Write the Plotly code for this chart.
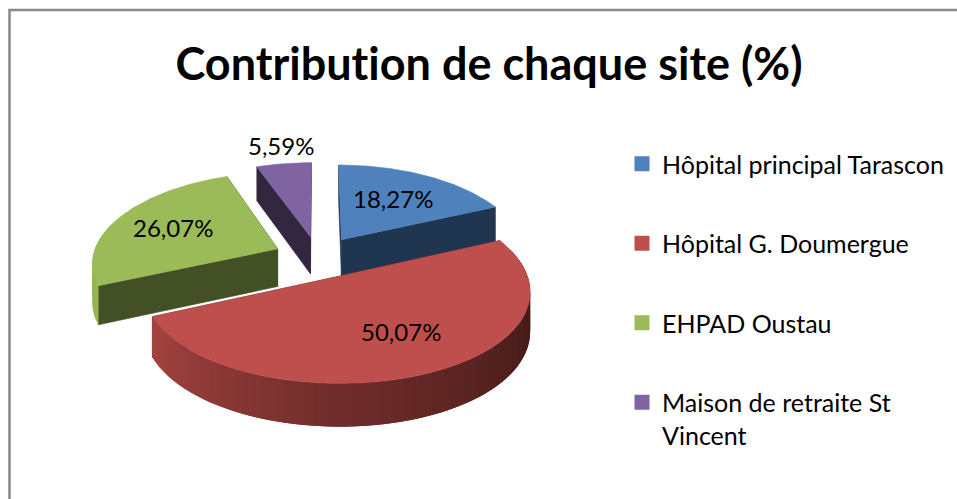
import numpy as np
import plotly.graph_objects as go

TITLE = "Contribution de chaque site (%)"
SITES = ["Hôpital principal Tarascon", "Hôpital G. Doumergue", "EHPAD Oustau", "Maison de retraite St<br>Vincent"]
VALUES = [18.27, 50.07, 26.07, 5.59]
TOP_COLORS = ["#4F81BD", "#BE4F4C", "#9BBB59", "#8064A2"]
FACE_COLORS = ["#20354F", "#5A2220", "#435025", "#33273F"]
LABEL_RADIUS = [0.6, 0.6, 0.6, 1.26]
LABEL_XSHIFT = [-2, 12, -8, 3]
LABEL_YSHIFT = [1, 0, 2, 2]
FONT = "Lato"

W, H = 957, 499
CX, CY, A0, B0 = 318.0, 257.0, 185.0, 88.0
KX, KY, PULL, DEPTH = 0.142, 0.124, 0.24, 38.0


def project(X, Y, drop=0.0):
    X, Y = np.asarray(X, float), np.asarray(Y, float)
    sx = CX + A0 * X / (1 + KX * Y)
    sy = CY - B0 * Y / (1 + KY * Y) + drop * DEPTH / (1 + 0.1 * Y)
    return sx, sy


def ring(theta, off):
    return off[0] + np.sin(theta), off[1] + np.cos(theta)


fig = go.Figure()


def poly(xs, ys, color, stroke=0.6):
    fig.add_trace(go.Scatter(
        x=list(xs) + [xs[0]], y=list(ys) + [ys[0]], mode="lines", fill="toself",
        fillcolor=color, line=dict(color=color, width=stroke),
        hoverinfo="skip", showlegend=False))


def wall_rgb(i, deg):
    base = {
        1: ([60, 90, 180, 246], [(72, 30, 28), (58, 24, 21), (112, 45, 43), (165, 68, 65)]),
        2: ([240, 300], [(150, 180, 85), (150, 180, 85)]),
    }.get(i)
    if base is None:
        return FACE_COLORS[i]
    c = [int(np.interp(deg, base[0], [p[k] for p in base[1]])) for k in range(3)]
    return f"rgb({c[0]},{c[1]},{c[2]})"


fractions = np.array(VALUES) / sum(VALUES)
edges = np.concatenate([[0], np.cumsum(fractions)]) * 2 * np.pi
slices = []
for i in range(len(VALUES)):
    a, b = edges[i], edges[i + 1]
    mid = (a + b) / 2
    off = (PULL * np.sin(mid), PULL * np.cos(mid))
    slices.append((i, a, b, mid, off))

# painter's order: far slices first, the large front slice last
for i, a, b, mid, off in sorted(slices, key=lambda s: -s[4][1]):
    for t in (a, b):
        ex, ey = ring(t, off)
        x0, y0 = project([off[0], ex], [off[1], ey])
        x1, y1 = project([off[0], ex], [off[1], ey], 1.0)
        poly([x0[0], x0[1], x1[1], x1[0]], [y0[0], y0[1], y1[1], y1[0]], FACE_COLORS[i])
    steps = np.linspace(a, b, int(np.degrees(b - a) / 2) + 2)
    step = steps[1] - steps[0]
    for t0, t1 in zip(steps[:-1], steps[1:]):
        if np.cos((t0 + t1) / 2) > 0.3:
            continue
        # each strip runs a little under the next one so that no seams show
        ex, ey = ring(np.array([t0, min(t1 + step, b)]), off)
        x0, y0 = project(ex, ey)
        x1, y1 = project(ex, ey, 1.0)
        poly([x0[0], x0[1], x1[1], x1[0]], [y0[0], y0[1], y1[1], y1[0]],
             wall_rgb(i, np.degrees((t0 + t1) / 2)), stroke=0)
    th = np.linspace(a, b, 90)
    ex, ey = ring(th, off)
    sx, sy = project(np.r_[off[0], ex], np.r_[off[1], ey])
    poly(sx, sy, TOP_COLORS[i])

annotations = []
for i, a, b, mid, off in slices:
    r = LABEL_RADIUS[i]
    lx, ly = project(off[0] + r * np.sin(mid), off[1] + r * np.cos(mid))
    annotations.append(dict(
        x=float(lx), y=float(ly), xref="x", yref="y", showarrow=False,
        xshift=LABEL_XSHIFT[i], yshift=LABEL_YSHIFT[i],
        text=f"{VALUES[i]:.2f}%".replace(".", ","),
        font=dict(family=FONT, size=24, color="#000000")))

for name, color in zip(SITES, TOP_COLORS):
    fig.add_trace(go.Scatter(
        x=[None], y=[None], mode="markers", name=name, legendgroup=name,
        marker=dict(symbol="square", size=15, color=color), hoverinfo="skip"))

fig.update_layout(
    width=W, height=H, margin=dict(l=0, r=0, t=0, b=0), autosize=False,
    paper_bgcolor="white", plot_bgcolor="white",
    xaxis=dict(range=[0, W], visible=False, fixedrange=True),
    yaxis=dict(range=[H, 0], visible=False, fixedrange=True),
    title=dict(text=f"<b>{TITLE}</b>", x=489 / W, y=1 - 64 / H, xanchor="center", yanchor="middle",
               font=dict(family=FONT, size=45, color="#000000")),
    legend=dict(x=622 / W, y=1 - 141 / H, xanchor="left", yanchor="top", tracegroupgap=44, valign="top",
                font=dict(family=FONT, size=25, color="#000000"), itemclick=False, itemdoubleclick=False,
                bgcolor="rgba(0,0,0,0)"),
    shapes=[dict(type="rect", xref="x", yref="y", x0=9.5, y0=10, x1=W + 20, y1=H + 20,
                 line=dict(color="#888888", width=2.5), layer="below")],
    annotations=annotations,
)

fig.write_html("out.html", config=dict(displayModeBar=False),
               post_script="document.body.style.margin='0';"
                           "document.body.style.fontFeatureSettings='\"liga\" 0, \"clig\" 0';")
